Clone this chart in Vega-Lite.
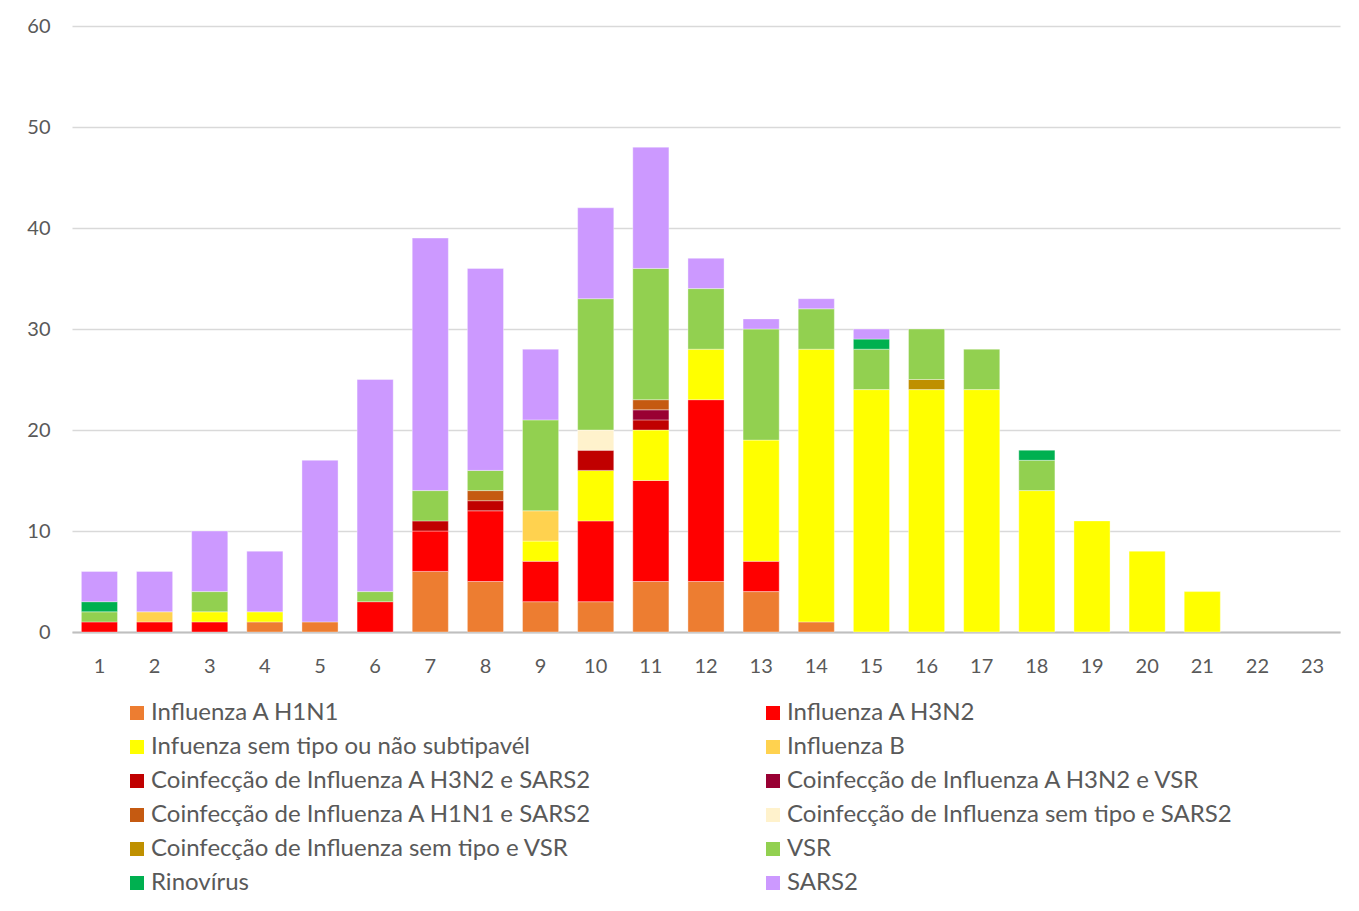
{
  "$schema": "https://vega.github.io/schema/vega-lite/v6.json",
  "width": 1268,
  "height": 606,
  "autosize": {"type": "none"},
  "padding": {"left": 72, "top": 26, "right": 19, "bottom": 279},
  "background": "white",
  "config": {
    "font": "Lato",
    "view": {"stroke": null}
  },
  "datasets": {
    "rows": [
      {"semana": 1, "tipo": "Influenza A H3N2", "n": 1},
      {"semana": 1, "tipo": "VSR", "n": 1},
      {"semana": 1, "tipo": "Rinovírus", "n": 1},
      {"semana": 1, "tipo": "SARS2", "n": 3},
      {"semana": 2, "tipo": "Influenza A H3N2", "n": 1},
      {"semana": 2, "tipo": "Influenza B", "n": 1},
      {"semana": 2, "tipo": "SARS2", "n": 4},
      {"semana": 3, "tipo": "Influenza A H3N2", "n": 1},
      {"semana": 3, "tipo": "Infuenza sem tipo ou não subtipavél", "n": 1},
      {"semana": 3, "tipo": "VSR", "n": 2},
      {"semana": 3, "tipo": "SARS2", "n": 6},
      {"semana": 4, "tipo": "Influenza A H1N1", "n": 1},
      {"semana": 4, "tipo": "Infuenza sem tipo ou não subtipavél", "n": 1},
      {"semana": 4, "tipo": "SARS2", "n": 6},
      {"semana": 5, "tipo": "Influenza A H1N1", "n": 1},
      {"semana": 5, "tipo": "SARS2", "n": 16},
      {"semana": 6, "tipo": "Influenza A H3N2", "n": 3},
      {"semana": 6, "tipo": "VSR", "n": 1},
      {"semana": 6, "tipo": "SARS2", "n": 21},
      {"semana": 7, "tipo": "Influenza A H1N1", "n": 6},
      {"semana": 7, "tipo": "Influenza A H3N2", "n": 4},
      {"semana": 7, "tipo": "Coinfecção de Influenza A H3N2 e SARS2", "n": 1},
      {"semana": 7, "tipo": "VSR", "n": 3},
      {"semana": 7, "tipo": "SARS2", "n": 25},
      {"semana": 8, "tipo": "Influenza A H1N1", "n": 5},
      {"semana": 8, "tipo": "Influenza A H3N2", "n": 7},
      {"semana": 8, "tipo": "Coinfecção de Influenza A H3N2 e SARS2", "n": 1},
      {"semana": 8, "tipo": "Coinfecção de Influenza A H1N1 e SARS2", "n": 1},
      {"semana": 8, "tipo": "VSR", "n": 2},
      {"semana": 8, "tipo": "SARS2", "n": 20},
      {"semana": 9, "tipo": "Influenza A H1N1", "n": 3},
      {"semana": 9, "tipo": "Influenza A H3N2", "n": 4},
      {"semana": 9, "tipo": "Infuenza sem tipo ou não subtipavél", "n": 2},
      {"semana": 9, "tipo": "Influenza B", "n": 3},
      {"semana": 9, "tipo": "VSR", "n": 9},
      {"semana": 9, "tipo": "SARS2", "n": 7},
      {"semana": 10, "tipo": "Influenza A H1N1", "n": 3},
      {"semana": 10, "tipo": "Influenza A H3N2", "n": 8},
      {"semana": 10, "tipo": "Infuenza sem tipo ou não subtipavél", "n": 5},
      {"semana": 10, "tipo": "Coinfecção de Influenza A H3N2 e SARS2", "n": 2},
      {"semana": 10, "tipo": "Coinfecção de Influenza sem tipo e SARS2", "n": 2},
      {"semana": 10, "tipo": "VSR", "n": 13},
      {"semana": 10, "tipo": "SARS2", "n": 9},
      {"semana": 11, "tipo": "Influenza A H1N1", "n": 5},
      {"semana": 11, "tipo": "Influenza A H3N2", "n": 10},
      {"semana": 11, "tipo": "Infuenza sem tipo ou não subtipavél", "n": 5},
      {"semana": 11, "tipo": "Coinfecção de Influenza A H3N2 e SARS2", "n": 1},
      {"semana": 11, "tipo": "Coinfecção de Influenza A H3N2 e VSR", "n": 1},
      {"semana": 11, "tipo": "Coinfecção de Influenza A H1N1 e SARS2", "n": 1},
      {"semana": 11, "tipo": "VSR", "n": 13},
      {"semana": 11, "tipo": "SARS2", "n": 12},
      {"semana": 12, "tipo": "Influenza A H1N1", "n": 5},
      {"semana": 12, "tipo": "Influenza A H3N2", "n": 18},
      {"semana": 12, "tipo": "Infuenza sem tipo ou não subtipavél", "n": 5},
      {"semana": 12, "tipo": "VSR", "n": 6},
      {"semana": 12, "tipo": "SARS2", "n": 3},
      {"semana": 13, "tipo": "Influenza A H1N1", "n": 4},
      {"semana": 13, "tipo": "Influenza A H3N2", "n": 3},
      {"semana": 13, "tipo": "Infuenza sem tipo ou não subtipavél", "n": 12},
      {"semana": 13, "tipo": "VSR", "n": 11},
      {"semana": 13, "tipo": "SARS2", "n": 1},
      {"semana": 14, "tipo": "Influenza A H1N1", "n": 1},
      {"semana": 14, "tipo": "Infuenza sem tipo ou não subtipavél", "n": 27},
      {"semana": 14, "tipo": "VSR", "n": 4},
      {"semana": 14, "tipo": "SARS2", "n": 1},
      {"semana": 15, "tipo": "Infuenza sem tipo ou não subtipavél", "n": 24},
      {"semana": 15, "tipo": "VSR", "n": 4},
      {"semana": 15, "tipo": "Rinovírus", "n": 1},
      {"semana": 15, "tipo": "SARS2", "n": 1},
      {"semana": 16, "tipo": "Infuenza sem tipo ou não subtipavél", "n": 24},
      {"semana": 16, "tipo": "Coinfecção de Influenza  sem tipo e VSR", "n": 1},
      {"semana": 16, "tipo": "VSR", "n": 5},
      {"semana": 17, "tipo": "Infuenza sem tipo ou não subtipavél", "n": 24},
      {"semana": 17, "tipo": "VSR", "n": 4},
      {"semana": 18, "tipo": "Infuenza sem tipo ou não subtipavél", "n": 14},
      {"semana": 18, "tipo": "VSR", "n": 3},
      {"semana": 18, "tipo": "Rinovírus", "n": 1},
      {"semana": 19, "tipo": "Infuenza sem tipo ou não subtipavél", "n": 11},
      {"semana": 20, "tipo": "Infuenza sem tipo ou não subtipavél", "n": 8},
      {"semana": 21, "tipo": "Infuenza sem tipo ou não subtipavél", "n": 4}
    ],
    "ordem": [
      {"tipo": "Influenza A H1N1", "ord": 1},
      {"tipo": "Influenza A H3N2", "ord": 2},
      {"tipo": "Infuenza sem tipo ou não subtipavél", "ord": 3},
      {"tipo": "Influenza B", "ord": 4},
      {"tipo": "Coinfecção de Influenza A H3N2 e SARS2", "ord": 5},
      {"tipo": "Coinfecção de Influenza A H3N2 e VSR", "ord": 6},
      {"tipo": "Coinfecção de Influenza A H1N1 e SARS2", "ord": 7},
      {"tipo": "Coinfecção de Influenza sem tipo e SARS2", "ord": 8},
      {"tipo": "Coinfecção de Influenza  sem tipo e VSR", "ord": 9},
      {"tipo": "VSR", "ord": 10},
      {"tipo": "Rinovírus", "ord": 11},
      {"tipo": "SARS2", "ord": 12}
    ]
  },
  "data": {"name": "rows"},
  "transform": [
    {"lookup": "tipo", "from": {"data": {"name": "ordem"}, "key": "tipo", "fields": ["ord"]}}
  ],
  "mark": {"type": "bar", "stroke": "white", "strokeWidth": 0.6, "strokeOpacity": 0.6},
  "encoding": {
    "x": {
      "field": "semana",
      "type": "ordinal",
      "scale": {"domain": [1,2,3,4,5,6,7,8,9,10,11,12,13,14,15,16,17,18,19,20,21,22,23], "paddingInner": 0.345, "paddingOuter": 0.17},
      "axis": {
        "title": null,
        "labelAngle": 0,
        "labelFontSize": 20,
        "labelColor": "#595959",
        "labelPadding": 24,
        "ticks": false,
        "domainColor": "#BFBFBF",
        "domainWidth": 2,
        "grid": false
      }
    },
    "y": {
      "field": "n",
      "type": "quantitative",
      "stack": "zero",
      "scale": {"domain": [0, 60], "nice": false},
      "axis": {
        "title": null,
        "values": [0, 10, 20, 30, 40, 50, 60],
        "labelFontSize": 20,
        "labelColor": "#595959",
        "labelPadding": 22,
        "ticks": false,
        "domain": false,
        "grid": true,
        "gridColor": "#D9D9D9",
        "gridWidth": 1.3
      }
    },
    "order": {"field": "ord", "type": "quantitative", "sort": "ascending"},
    "color": {
      "field": "tipo",
      "type": "nominal",
      "scale": {
        "domain": [
          "Influenza A H1N1",
          "Infuenza sem tipo ou não subtipavél",
          "Coinfecção de Influenza A H3N2 e SARS2",
          "Coinfecção de Influenza A H1N1 e SARS2",
          "Coinfecção de Influenza  sem tipo e VSR",
          "Rinovírus",
          "Influenza A H3N2",
          "Influenza B",
          "Coinfecção de Influenza A H3N2 e VSR",
          "Coinfecção de Influenza sem tipo e SARS2",
          "VSR",
          "SARS2"
        ],
        "range": ["#ED7D31", "#FFFF00", "#C00000", "#C55A11", "#BF9000", "#00B050", "#FF0000", "#FFD24F", "#990033", "#FFF2CC", "#92D050", "#CC99FF"]
      },
      "legend": {
        "title": null,
        "orient": "none",
        "legendX": 53,
        "legendY": 675,
        "columns": 2,
        "columnPadding": 169,
        "rowPadding": 10,
        "symbolType": "square",
        "symbolSize": 196,
        "symbolStrokeWidth": 0,
        "symbolOffset": 0,
        "labelFontSize": 24,
        "labelColor": "#595959",
        "labelOffset": 2,
        "labelLimit": 600
      }
    }
  }
}
